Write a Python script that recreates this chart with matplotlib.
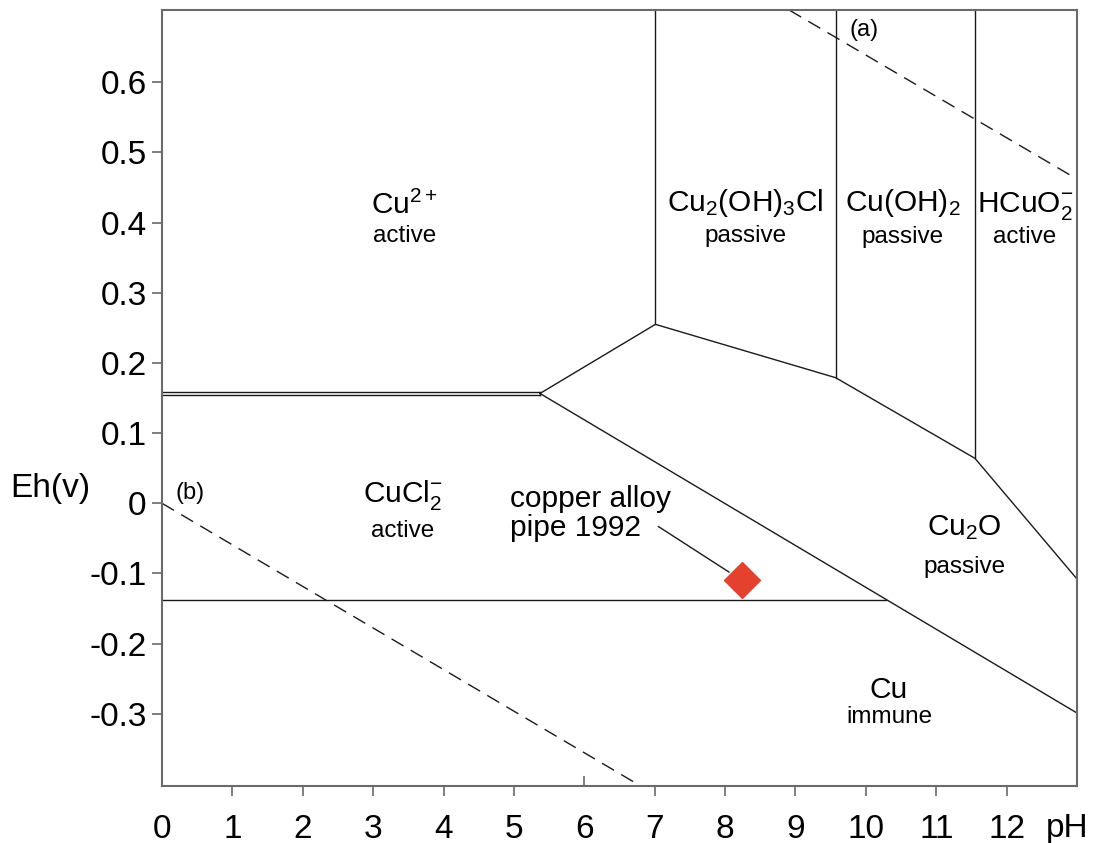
"""Pourbaix (Eh-pH) diagram for copper in chloride water, with the 1992 pipe sample."""
import matplotlib

matplotlib.use('Agg')
import matplotlib.pyplot as plt
from matplotlib import markers

plt.rcParams['font.family'] = ['Liberation Sans', 'DejaVu Sans']
plt.rcParams['mathtext.fontset'] = 'custom'
plt.rcParams['mathtext.rm'] = 'Liberation Sans'
plt.rcParams['mathtext.it'] = 'Liberation Sans'

# stability field boundaries (pH, Eh in V)
CUCL2_TOP_PH = [0, 5.37]
CUCL2_TOP_EH = [0.159, 0.159]
CUCL2_BOT_EH = [0.154, 0.154]
CU2_BOUND_PH = [5.37, 7.01, 9.57, 11.55, 13.0]
CU2_BOUND_EH = [0.1565, 0.255, 0.179, 0.064, -0.108]
VERT_PH = [7.01, 9.57, 11.55]
VERT_EH_LOW = [0.255, 0.179, 0.064]
CU_BOUND_PH = [5.37, 13.0]
CU_BOUND_EH = [0.1565, -0.299]
CUCL_CU_PH = [0, 10.28]
CUCL_CU_EH = [-0.138, -0.138]
# water stability lines (a) and (b)
WATER_A_PH = [8.91, 13.0]
WATER_A_EH = [0.703, 0.462]
WATER_B_PH = [0, 6.80]
WATER_B_EH = [0.0, -0.403]

# sample point
PIPE_PH = 8.24
PIPE_EH = -0.110

# region labels: (name, state, pH, Eh of name, Eh of state)
REGIONS = [
    ('Cu$^{2+}$', 'active', 3.45, 0.424, 0.381),
    ('Cu$_2$(OH)$_3$Cl', 'passive', 8.29, 0.428, 0.381),
    ('Cu(OH)$_2$', 'passive', 10.52, 0.428, 0.380),
    ('HCuO$_2^{-}$', 'active', 12.26, 0.424, 0.380),
    ('CuCl$_2^{-}$', 'active', 3.42, 0.012, -0.040),
    ('Cu$_2$O', 'passive', 11.4, -0.034, -0.091),
    ('Cu', 'immune', 10.33, -0.266, -0.305),
]

X_TICKS = list(range(0, 13))
Y_TICKS = [-0.3, -0.2, -0.1, 0, 0.1, 0.2, 0.3, 0.4, 0.5, 0.6]
Y_TICK_LABELS = ['-0.3', '-0.2', '-0.1', '0', '0.1', '0.2', '0.3', '0.4', '0.5', '0.6']

AXIS_GREY = '#6a6a6a'
LINE = '#1a1a1a'


def main():
    fig = plt.figure(figsize=(10.93, 8.43), dpi=100)
    ax = fig.add_axes([0.1482, 0.0676, 0.8372, 0.9205])
    ax.set_xlim(0, 13)
    ax.set_ylim(-0.403, 0.703)

    lw = 1.0
    ax.plot(CUCL2_TOP_PH, CUCL2_TOP_EH, color=LINE, lw=lw)
    ax.plot(CUCL2_TOP_PH, CUCL2_BOT_EH, color=LINE, lw=lw)
    ax.plot([CUCL2_TOP_PH[1]] * 2, [CUCL2_BOT_EH[1], CUCL2_TOP_EH[1]], color=LINE, lw=lw)
    ax.plot(CU2_BOUND_PH, CU2_BOUND_EH, color=LINE, lw=lw)
    for ph, eh in zip(VERT_PH, VERT_EH_LOW):
        ax.plot([ph, ph], [eh, 0.703], color=LINE, lw=lw)
    ax.plot(CU_BOUND_PH, CU_BOUND_EH, color=LINE, lw=lw)
    ax.plot(CUCL_CU_PH, CUCL_CU_EH, color=LINE, lw=lw)

    dash = dict(color=LINE, lw=1.0, dashes=(10, 6))
    ax.plot(WATER_A_PH, WATER_A_EH, **dash)
    ax.plot(WATER_B_PH, WATER_B_EH, **dash)
    ax.text(9.97, 0.674, '(a)', fontsize=17, ha='center', va='center')
    ax.text(0.40, 0.014, '(b)', fontsize=17, ha='center', va='center')

    for name, state, ph, eh_name, eh_state in REGIONS:
        ax.text(ph, eh_name, name, fontsize=21.5, ha='center', va='center')
        ax.text(ph, eh_state, state, fontsize=17.5, ha='center', va='center')

    # sample marker and its leader line
    ax.text(4.94, -0.015, 'copper alloy\npipe 1992', fontsize=21.5, ha='left', va='center',
            linespacing=1.05)
    ax.annotate('', xy=(PIPE_PH, PIPE_EH), xytext=(7.05, -0.033),
                arrowprops=dict(arrowstyle='-', color=LINE, lw=1.0, shrinkA=0, shrinkB=11))
    ax.plot([PIPE_PH], [PIPE_EH], marker='D', markersize=18, color='#e5412f',
            markeredgecolor='#e5412f', linestyle='none', zorder=5)

    # axes styling
    for side in ax.spines.values():
        side.set_color(AXIS_GREY)
        side.set_linewidth(1.5)
    ax.set_xticks(X_TICKS)
    ax.set_yticks(Y_TICKS)
    ax.set_yticklabels(Y_TICK_LABELS)
    ax.tick_params(axis='both', colors=AXIS_GREY, labelcolor='black', labelsize=24,
                   length=7, width=1.2, direction='out')
    ax.tick_params(axis='x', pad=13)
    ax.tick_params(axis='y', pad=4)
    # original has no tick mark at pH 0 and an inward one at pH 6
    xt = ax.xaxis.get_major_ticks()
    xt[0].tick1line.set_visible(False)
    xt[6].tick1line.set_marker(markers.TICKUP)

    ax.text(12.86, -0.035, 'pH', fontsize=24, ha='center', va='top',
            transform=ax.get_xaxis_transform())
    ax.set_ylabel('Eh(v)', fontsize=24, rotation=0, ha='center', va='center')
    ax.yaxis.set_label_coords(-0.122, 0.384)

    fig.savefig('out.png', dpi=100)
    plt.close(fig)


if __name__ == '__main__':
    main()
